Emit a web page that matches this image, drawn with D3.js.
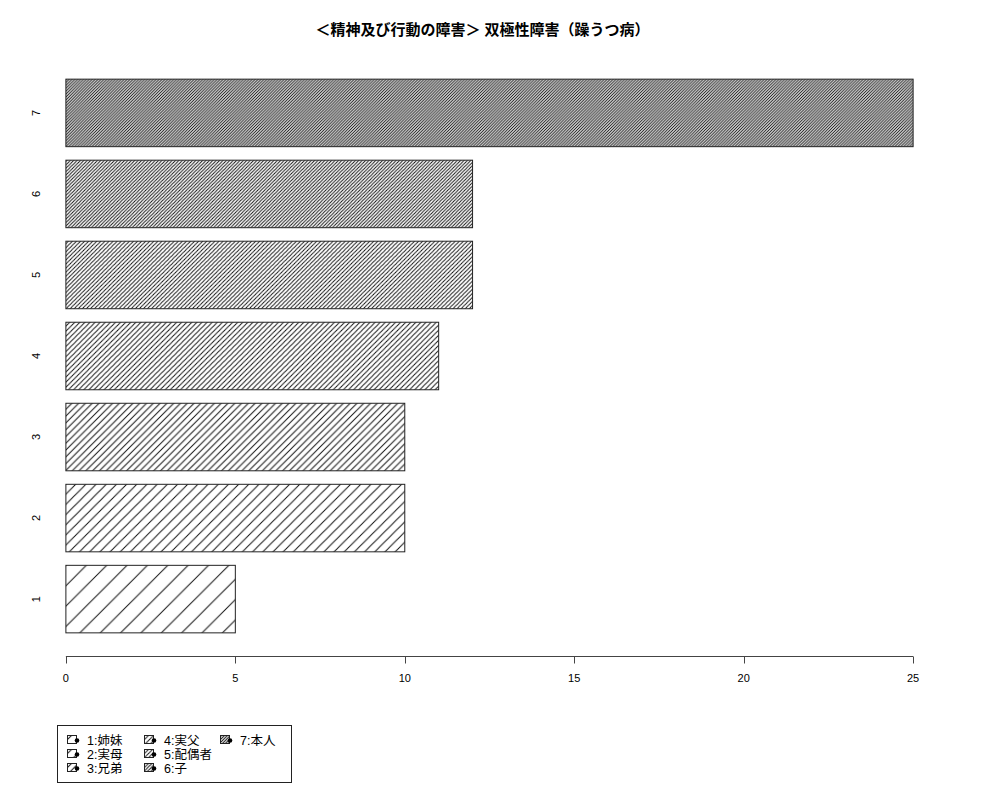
<!DOCTYPE html>
<html lang="ja">
<head>
  <meta charset="UTF-8">
  <title>双極性障害</title>
  <script src="https://d3js.org/d3.v7.min.js"></script>
  <style>
    body { margin: 0; background: #fff; }
    text { font-family: "Liberation Sans", "Noto Sans CJK JP", sans-serif; fill: #000; }
  </style>
</head>
<body>
<div id="chart"></div>
<script>
  // Data
  const categories = ["1", "2", "3", "4", "5", "6", "7"];
  const values = [5, 10, 10, 11, 12, 12, 25];
  const densities = [5, 10, 15, 20, 25, 30, 35]; // hatch lines per inch
  const legendLabels = ["1:姉妹", "2:実母", "3:兄弟", "4:実父", "5:配偶者", "6:子", "7:本人"];
  const xTicks = [0, 5, 10, 15, 20, 25];
  const title = "＜精神及び行動の障害＞ 双極性障害（躁うつ病）";

  const width = 1000, height = 800;
  const plot = { left: 32, right: 947, top: 57, bottom: 655 };

  const svg = d3.select("#chart").append("svg")
    .attr("width", width)
    .attr("height", height);

  // x: 0..25 with R style 4% padding
  const x = d3.scaleLinear()
    .domain([-1, 26])
    .range([plot.left, plot.right]);

  // y: bar slots, width 1, space 0.2
  const y = d3.scaleLinear()
    .domain([-0.128, 8.728])
    .range([plot.bottom, plot.top]);

  // Hatch patterns, one per density
  const defs = svg.append("defs");
  densities.forEach((d, i) => {
    const s = 72 / d * Math.SQRT2;
    const p = defs.append("pattern")
      .attr("id", "hatch" + i)
      .attr("patternUnits", "userSpaceOnUse")
      .attr("width", s)
      .attr("height", s);
    p.append("path")
      .attr("d", `M${-s},${s} L${s},${-s} M0,${s} L${s},0 M0,${2 * s} L${2 * s},0`)
      .attr("stroke", "#111")
      .attr("stroke-width", 1)
      .attr("fill", "none");
  });

  // Bars
  const barTop = i => y(0.2 + i * 1.2 + 1);
  const barBottom = i => y(0.2 + i * 1.2);

  svg.selectAll(".bar")
    .data(values)
    .join("rect")
    .attr("class", "bar")
    .attr("x", x(0))
    .attr("y", (d, i) => barTop(i))
    .attr("width", d => x(d) - x(0))
    .attr("height", (d, i) => barBottom(i) - barTop(i))
    .attr("fill", (d, i) => `url(#hatch${i})`)
    .attr("stroke", "#222")
    .attr("stroke-width", 1);

  // Category labels (rotated, no axis line)
  svg.selectAll(".cat")
    .data(categories)
    .join("text")
    .attr("class", "cat")
    .attr("transform", (d, i) => `translate(40, ${(barTop(i) + barBottom(i)) / 2}) rotate(-90)`)
    .attr("text-anchor", "middle")
    .style("font-size", "11px")
    .text(d => d);

  // X axis
  const axis = svg.append("g")
    .attr("transform", `translate(0, 656.5)`);
  axis.append("line")
    .attr("x1", x(xTicks[0]))
    .attr("x2", x(xTicks[xTicks.length - 1]))
    .attr("stroke", "#444");
  axis.selectAll(".tick")
    .data(xTicks)
    .join("line")
    .attr("x1", d => Math.round(x(d)) + 0.5)
    .attr("x2", d => Math.round(x(d)) + 0.5)
    .attr("y1", 0)
    .attr("y2", 7)
    .attr("stroke", "#444");
  axis.selectAll(".tlabel")
    .data(xTicks)
    .join("text")
    .attr("x", d => x(d))
    .attr("y", 25)
    .attr("text-anchor", "middle")
    .style("font-size", "11px")
    .text(d => d);

  // Title
  svg.append("text")
    .attr("x", (plot.left + plot.right) / 2 - 7)
    .attr("y", 35)
    .attr("text-anchor", "middle")
    .style("font-size", "15px")
    .style("font-weight", "bold")
    .text(title);

  // Legend
  const legend = svg.append("g");
  legend.append("rect")
    .attr("x", 57.5).attr("y", 725.5)
    .attr("width", 234).attr("height", 57)
    .attr("fill", "none")
    .attr("stroke", "#222");

  const colX = [67, 144, 220];
  const rowY = [740, 754, 768];
  const items = legend.selectAll(".item")
    .data(legendLabels)
    .join("g")
    .attr("transform", (d, i) => `translate(${colX[Math.floor(i / 3)]}, ${rowY[i % 3]})`);
  items.append("rect")
    .attr("x", 0.5).attr("y", -4.5)
    .attr("width", 9).attr("height", 8)
    .attr("fill", (d, i) => `url(#hatch${i})`)
    .attr("stroke", "#222");
  items.append("circle")
    .attr("cx", 10).attr("cy", 0.5)
    .attr("r", 2.3)
    .attr("fill", "#000");
  items.append("text")
    .attr("x", 20)
    .attr("y", 4.5)
    .style("font-size", "12.5px")
    .text(d => d);
</script>
</body>
</html>
